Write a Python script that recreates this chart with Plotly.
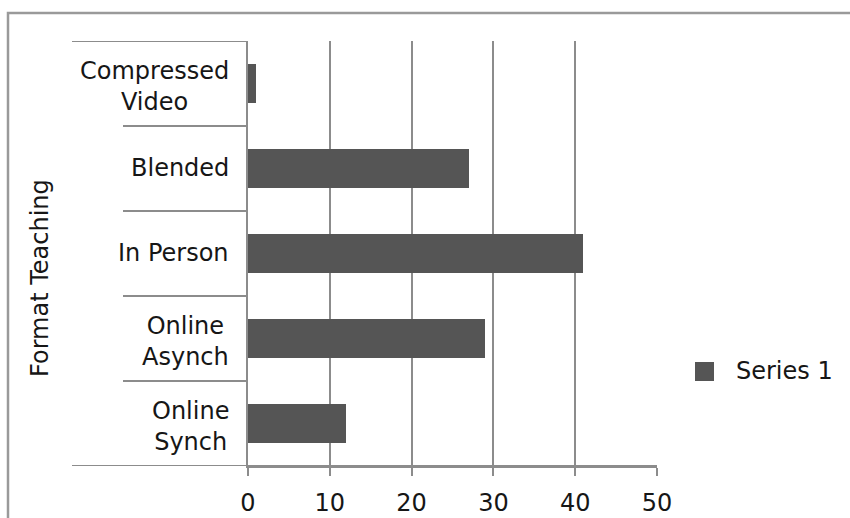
import plotly.graph_objects as go

# Teaching format counts
categories = ["Compressed Video", "Blended", "In Person", "Online Asynch", "Online Synch"]
category_labels = ["Compressed<br>Video", "Blended", "In Person", "Online<br>Asynch", "Online<br>Synch"]
values = [1, 27, 41, 29, 12]
x_ticks = [0, 10, 20, 30, 40, 50]
series_name = "Series 1"
axis_title = "Format Teaching"

W, H = 850, 518
L, R, T, B = 248, 193, 41, 52
PW, PH = W - L - R, H - T - B

BAR = "#555555"
GRID = "#8c8c8c"
TEXT = "#161616"
FONT = "DejaVu Sans"
FS = 24


def px_x(p):
    return (p - L) / PW


def px_y(p):
    return (H - B - p) / PH


fig = go.Figure(
    go.Bar(
        x=values,
        y=list(range(len(categories))),
        orientation="h",
        width=0.45,
        marker=dict(color=BAR, line=dict(width=0)),
        name=series_name,
        showlegend=False,
        hovertext=categories,
    )
)

shapes = []
# category separators reaching into the label column
n = len(categories)
for i in range(n + 1):
    edge = i in (0, n)
    shapes.append(dict(
        type="line", xref="x domain", yref="y",
        x0=px_x(72 if edge else 123), x1=1 if i == n else 0,
        y0=i - 0.5, y1=i - 0.5,
        line=dict(color=GRID, width=2), layer="above",
    ))

# outer frame
shapes.append(dict(
    type="rect", xref="paper", yref="paper",
    x0=px_x(8), x1=px_x(880), y0=px_y(540), y1=px_y(13),
    line=dict(color="#9a9a9a", width=2.5), fillcolor="rgba(0,0,0,0)",
))

# legend swatch
shapes.append(dict(
    type="rect", xref="paper", yref="paper",
    x0=px_x(695), x1=px_x(714), y0=px_y(381), y1=px_y(362),
    line=dict(width=0), fillcolor=BAR,
))

annotations = []
for i, lab in enumerate(category_labels):
    two_line = "<br>" in lab
    annotations.append(dict(
        x=0, xref="x", y=i, yref="y", text=lab, showarrow=False,
        xanchor="right", yanchor="middle", xshift=-17,
        yshift=-3 if two_line else 1, align="center",
        font=dict(family=FONT, size=FS, color=TEXT),
    ))

annotations.append(dict(
    x=px_x(40), xref="paper", y=px_y(278), yref="paper", text=axis_title,
    textangle=-90, showarrow=False, xanchor="center", yanchor="middle",
    font=dict(family=FONT, size=FS, color=TEXT),
))

annotations.append(dict(
    x=px_x(734), xref="paper", y=px_y(371), yref="paper", text=series_name,
    showarrow=False, xanchor="left", yanchor="middle",
    font=dict(family=FONT, size=FS, color=TEXT),
))

fig.update_layout(
    width=W, height=H,
    margin=dict(l=L, r=R, t=T, b=B, pad=0, autoexpand=False),
    paper_bgcolor="white", plot_bgcolor="white",
    font=dict(family=FONT, size=FS, color=TEXT),
    showlegend=False,
    bargap=0,
    xaxis=dict(
        range=[0, 50], tickvals=x_ticks, ticktext=[str(v) for v in x_ticks],
        showgrid=True, gridcolor=GRID, gridwidth=2,
        zeroline=False, showline=True, linecolor=GRID, linewidth=2,
        ticks="outside", ticklen=8, tickwidth=2, tickcolor=GRID,
        ticklabelstandoff=6, automargin=False,
        tickfont=dict(family=FONT, size=FS, color=TEXT),
    ),
    yaxis=dict(
        range=[n - 0.5, -0.5], showticklabels=False, ticks="",
        showgrid=False, zeroline=False, automargin=False,
        showline=True, linecolor=GRID, linewidth=2,
    ),
    shapes=shapes,
    annotations=annotations,
)

fig.write_html("out.html")
